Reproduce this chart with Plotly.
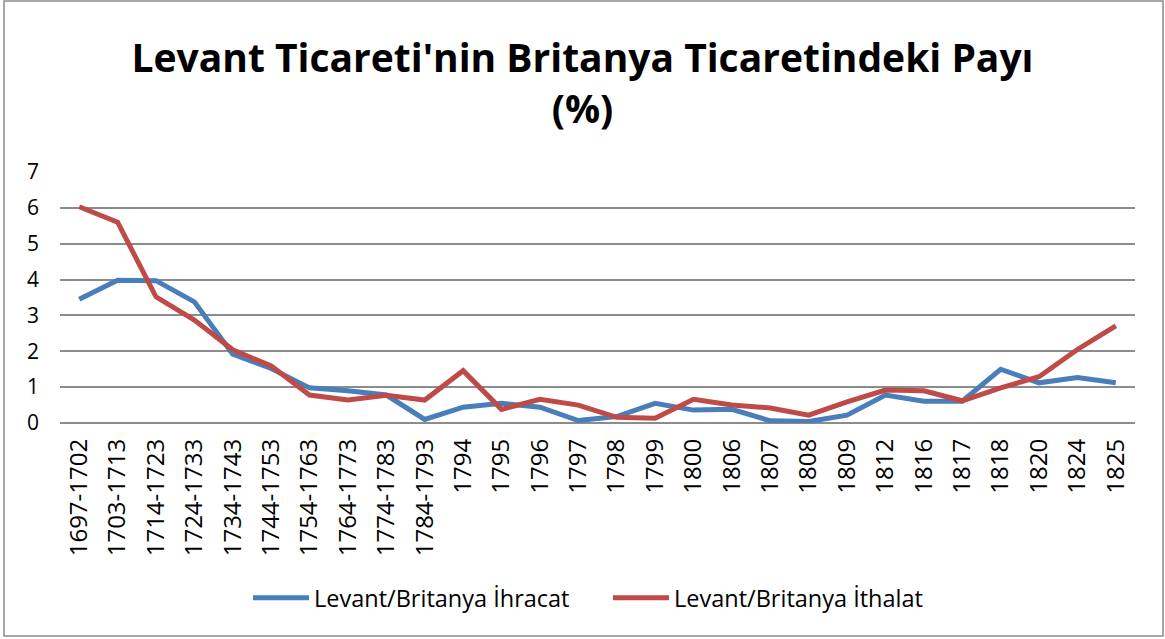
import plotly.graph_objects as go

categories = ["1697-1702", "1703-1713", "1714-1723", "1724-1733", "1734-1743", "1744-1753",
              "1754-1763", "1764-1773", "1774-1783", "1784-1793", "1794", "1795", "1796",
              "1797", "1798", "1799", "1800", "1806", "1807", "1808", "1809", "1812", "1816",
              "1817", "1818", "1820", "1824", "1825"]

ihracat = [3.45, 3.98, 3.97, 3.38, 1.92, 1.52, 0.98, 0.90, 0.78, 0.10, 0.44, 0.55, 0.44,
           0.07, 0.18, 0.55, 0.36, 0.38, 0.06, 0.04, 0.22, 0.78, 0.61, 0.61, 1.50, 1.12,
           1.27, 1.12]

ithalat = [6.03, 5.60, 3.52, 2.87, 2.04, 1.59, 0.78, 0.64, 0.77, 0.64, 1.46, 0.38, 0.66,
           0.50, 0.16, 0.13, 0.66, 0.50, 0.42, 0.22, 0.59, 0.92, 0.90, 0.62, 0.98, 1.29,
           2.05, 2.71]

y_ticks = [0, 1, 2, 3, 4, 5, 6, 7]

FONT = "Open Sans"
W, H = 1165, 639
ML, MR, MT, MB = 60, 30, 172, 216

fig = go.Figure()
fig.add_trace(go.Scatter(x=categories, y=ihracat, mode="lines", name="Levant/Britanya İhracat",
                         line=dict(color="#4A7EBB", width=5)))
fig.add_trace(go.Scatter(x=categories, y=ithalat, mode="lines", name="Levant/Britanya İthalat",
                         line=dict(color="#BE4B48", width=5)))

pw = W - ML - MR
ph = H - MT - MB
fig.add_shape(type="rect", xref="paper", yref="paper",
              x0=(4 - ML) / pw, x1=(1163 - ML) / pw,
              y0=(H - MB - 636) / ph, y1=(H - MB - 1) / ph,
              line=dict(color="#8a8a8a", width=1.5), fillcolor="rgba(0,0,0,0)", layer="below")

fig.update_layout(
    width=W, height=H,
    margin=dict(l=ML, r=MR, t=MT, b=MB),
    paper_bgcolor="white", plot_bgcolor="white",
    title=dict(text="<b>Levant Ticareti'nin Britanya Ticaretindeki Payı<br>(%)</b>",
               x=0.5, xref="container", xanchor="center", y=1 - 72 / H, yanchor="middle",
               font=dict(family=FONT, size=39, color="black")),
    font=dict(family=FONT, color="black"),
    xaxis=dict(type="category", tickangle=-90, tickfont=dict(size=24, color="black"),
               showgrid=False, showline=False, ticks="", ticklabelstandoff=10,
               range=[-0.5, len(categories) - 0.5]),
    yaxis=dict(range=[0, 7], tickvals=y_ticks, tickfont=dict(size=21, color="black"),
               showgrid=True, gridcolor="#8c8c8c", gridwidth=1.6, zeroline=True,
               zerolinecolor="#8c8c8c", zerolinewidth=1.6, showline=False, ticks="",
               ticklabelstandoff=20),
    legend=dict(orientation="h", x=(248 - ML) / pw, xanchor="left", y=(423 - 598) / ph,
                yanchor="middle", font=dict(size=23.5, color="black"), itemwidth=56,
                entrywidth=289, bgcolor="rgba(0,0,0,0)"),
    showlegend=True,
)

fig.write_html("out.html", config={"displayModeBar": False},
               post_script="document.body.style.margin='0';")
